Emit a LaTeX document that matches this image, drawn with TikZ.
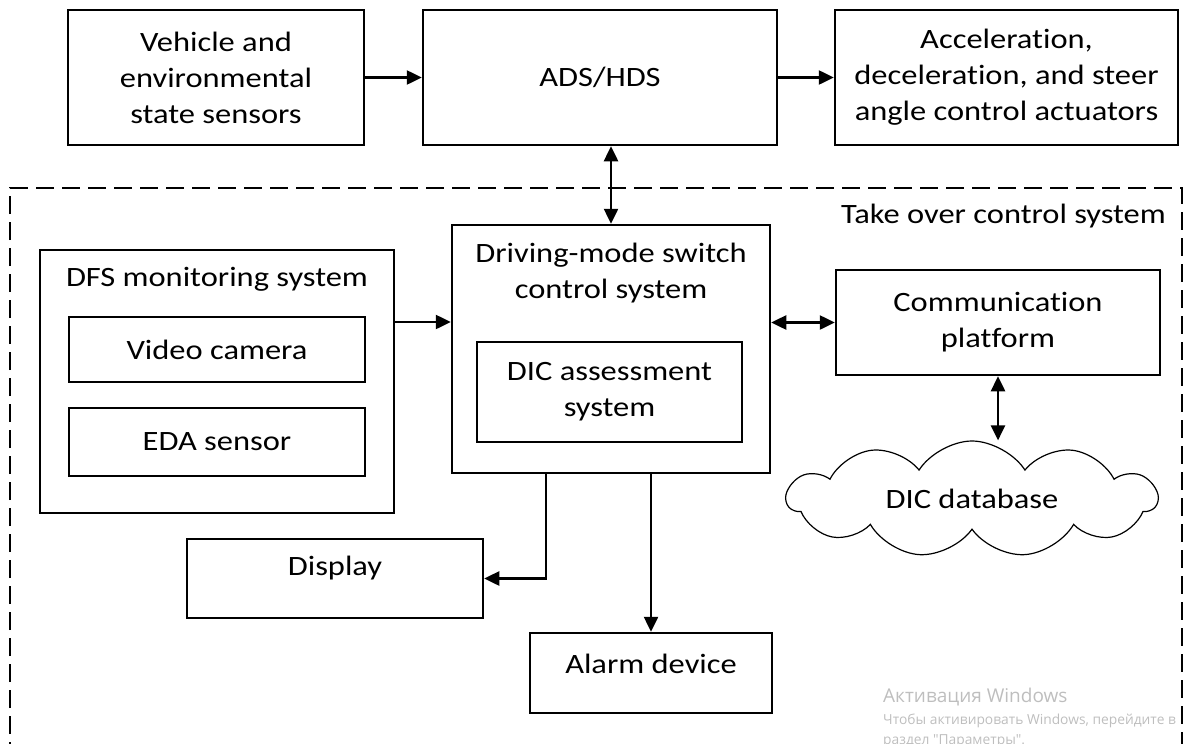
\documentclass[tikz,border=0pt]{standalone}
\usepackage{fontspec}
\setmainfont{Carlito}[FakeStretch=1.16,Ligatures=NoCommon]
\newfontfamily\wmfont{Open Sans}
\usetikzlibrary{arrows.meta,shapes.symbols}
\definecolor{wmgray}{RGB}{190,190,190}
\begin{document}
\begin{tikzpicture}[x=1pt,y=-1pt,
    font=\fontsize{28}{36}\selectfont,
    blk/.style={draw,line width=2.5pt,align=center,inner sep=0pt},
    toptext/.style={text height=20pt,text depth=19pt},
    arr/.style={line width=2.5pt,-{Triangle[length=15pt,width=14pt]}},
    dbl/.style={line width=2.5pt,{Triangle[length=15pt,width=14pt]}-{Triangle[length=15pt,width=14pt]}}]
        \useasboundingbox (0,0) rectangle (1186,744);
        \node (veh) [blk,minimum width=296pt,minimum height=135pt] at (216,77.5) {Vehicle and\\environmental\\state sensors};
        \node (ads) [blk,minimum width=354pt,minimum height=135pt] at (600,77.5) {ADS/HDS};
        \node (act) [blk,minimum width=343pt,minimum height=135pt] at (1006.5,77.5) {Acceleration,\\deceleration, and steer\\angle control actuators};
        \node (wm1) [anchor=west,text=wmgray,font=\wmfont\fontsize{19}{22}\selectfont,inner sep=0pt] at (883,697) {Активация Windows};
        \node (wm2) [anchor=west,text=wmgray,font=\wmfont\fontsize{13.8}{16}\selectfont,inner sep=0pt] at (883,721) {Чтобы активировать Windows, перейдите в};
        \node (wm3) [anchor=west,text=wmgray,font=\wmfont\fontsize{13.8}{16}\selectfont,inner sep=0pt] at (883,741) {раздел "Параметры".};
        \draw[line width=2.5pt,dash pattern=on 18pt off 8pt] (10,760) -- (10,188) -- (1182,188) -- (1182,760);
        \node (tk) [anchor=east,inner sep=0pt] at (1166,216) {Take over control system};
        \node (drv) [blk,minimum width=318pt,minimum height=248pt] at (611,349) {};
        \node (drvt) [anchor=north,align=center,inner sep=0pt] at (611,243) {Driving-mode switch\\control system};
        \node (dic) [blk,minimum width=265pt,minimum height=100pt] at (609.5,392) {DIC assessment\\system};
        \node (dfs) [blk,minimum width=354pt,minimum height=263pt] at (217,381.5) {};
        \node (dfst) [inner sep=0pt] at (217,279) {DFS monitoring system};
        \node (cam) [blk,minimum width=296pt,minimum height=65pt] at (217,349.5) {Video camera};
        \node (eda) [blk,minimum width=296pt,minimum height=68pt] at (217,442) {EDA sensor};
        \node (com) [blk,minimum width=324pt,minimum height=105pt] at (998,322.5) {Communication\\platform};
        \node (db) [draw,line width=1.2pt,cloud,cloud puffs=11,cloud puff arc=115,aspect=3.2,minimum width=370pt,minimum height=116pt,inner sep=0pt] at (972,499) {DIC database};
        \node (dsp) [blk,text height=20pt,text depth=27pt,minimum width=296pt,minimum height=79pt] at (335,578.5) {Display};
        \node (alm) [blk,toptext,minimum width=242pt,minimum height=80pt] at (651,673) {Alarm device};
        \coordinate (p1) at ([yshift=59.5pt]dfs.east);
        \draw[arr] (veh) -- (ads);
        \draw[arr] (ads) -- (act);
        \draw[dbl] (drv.north |- ads.south) -- (drv.north);
        \draw[arr] (p1) -- (p1 -| drv.west);
        \draw[dbl] (drv.east |- com) -- (com.west);
        \draw[dbl] (com.south) -- (com.south |- db.north);
        \draw[arr] ([xshift=-65pt]drv.south) |- (dsp.east);
        \draw[arr] (drv.south -| alm.north) -- (alm.north);
        \end{tikzpicture}
\end{document}
